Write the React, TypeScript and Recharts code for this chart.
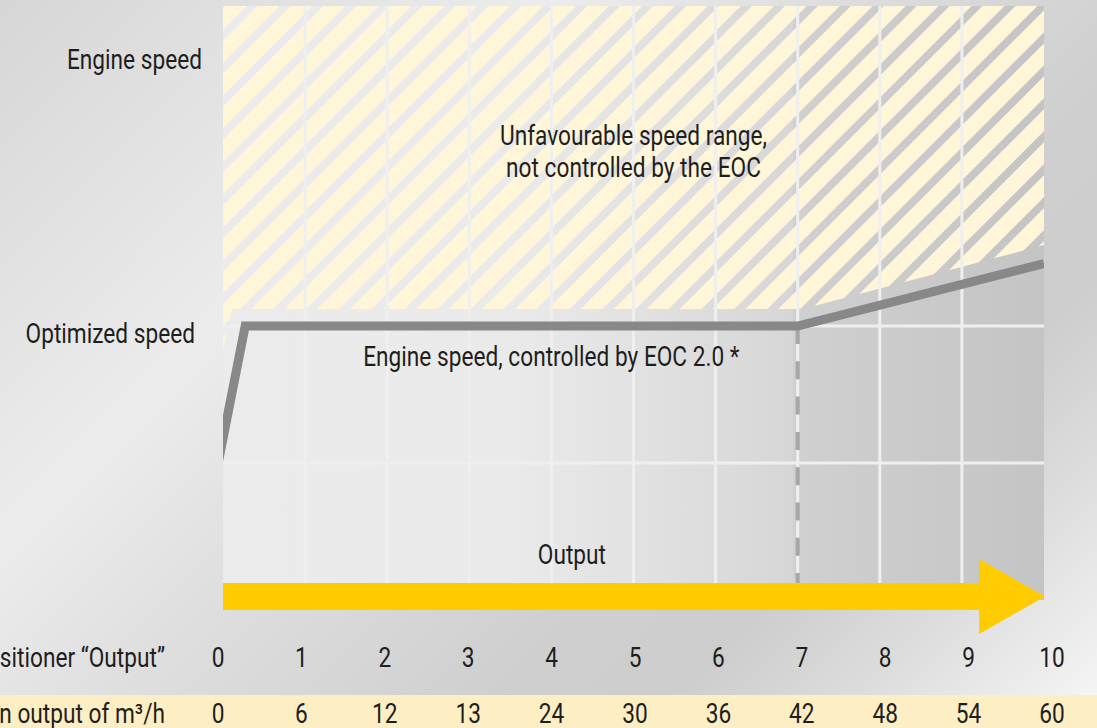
import React from 'react';
import {
  ComposedChart,
  Line,
  Area,
  XAxis,
  YAxis,
  ReferenceLine,
  ReferenceArea,
  ReferenceDot,
} from 'recharts';

// ---------- data ----------
const X_TICKS = [0, 1, 2, 3, 4, 5, 6, 7, 8, 9, 10];
const POSITIONER_LABELS = ['0', '1', '2', '3', '4', '5', '6', '7', '8', '9', '10'];
const OUTPUT_M3H_LABELS = ['0', '6', '12', '13', '24', '30', '36', '42', '48', '54', '60'];
const ROW_TITLES = ['Positioner \u201cOutput\u201d', 'Mean output of m\u00b3/h'];

const Y_TOP = 4.336;
const Y_TICKS = [2, 4];
const Y_TICK_LABELS: Record<number, string> = { 4: 'Engine speed', 2: 'Optimized speed' };

// engine speed controlled by EOC 2.0
const engineX = [-0.1, 0.27, 7, 10];
const engineY = [0.876, 2.0, 2.0, 2.456];

// lower edge of the unfavourable (hatched) speed range
const hatchX = [0, 0.11, 7.06, 10];
const hatchLow = [1.825, 2.124, 2.124, 2.591];

const GRID_X = [1, 2, 3, 4, 5, 6, 7, 8, 9];
const GRID_Y = [1, 2];
const EOC_LIMIT_X = 7;

// output arrow (lower / upper edge of the arrow head, top of the shaft)
const ARROW_Y = [-0.248, 0.299];
const ARROW_SHAFT_TOP = 0.124;

const NOTES = [
  { x: 5, y: 3.321, text: 'Unfavourable speed range,' },
  { x: 5, y: 3.088, text: 'not controlled by the EOC' },
  { x: 4, y: 1.708, text: 'Engine speed, controlled by EOC 2.0 *' },
  { x: 4.25, y: 0.263, text: 'Output' },
];

const engineData = engineX.map((x, i) => ({ x, y: engineY[i] }));
const hatchData = hatchX.map((x, i) => ({ x, range: [hatchLow[i], Y_TOP] }));

// ---------- styles ----------
const FONT = "Roboto, 'Liberation Sans', sans-serif";
const SX = 0.84;
const TEXT_COLOR = '#1e1e1e';
const Y_LABEL_DX: Record<number, number> = { 4: -21, 2: -28 };

function CText({ x, y, anchor = 'start', size = 27, children }: any) {
  return (
    <text
      transform={`translate(${x},${y}) scale(${SX},1)`}
      textAnchor={anchor}
      fontFamily={FONT}
      fontSize={size}
      fill={TEXT_COLOR}
    >
      {children}
    </text>
  );
}

const XTick = (props: any) => {
  const { x, y, payload } = props;
  const i = X_TICKS.indexOf(payload.value);
  const dx = -5 + 1.3 * i;
  return (
    <g>
      <CText x={x + dx} y={y + 67} anchor="middle">{POSITIONER_LABELS[i]}</CText>
      <CText x={x + dx} y={y + 123} anchor="middle">{OUTPUT_M3H_LABELS[i]}</CText>
      {i === 0 && (
        <g>
          <CText x={x - 58} y={y + 67} anchor="end">{ROW_TITLES[0]}</CText>
          <CText x={x - 58} y={y + 123} anchor="end">{ROW_TITLES[1]}</CText>
        </g>
      )}
    </g>
  );
};

const YTick = (props: any) => {
  const { x, y, payload } = props;
  const v = payload.value;
  return (
    <CText x={x + (Y_LABEL_DX[v] ?? -24)} y={y + 17} anchor="end">
      {Y_TICK_LABELS[v]}
    </CText>
  );
};

const BgShape = (p: any) => (
  <g>
    <defs>
      <linearGradient id="plotBg" x1="0" y1="0" x2="1" y2="0">
        <stop offset="0" stopColor="#ebebeb" />
        <stop offset="0.35" stopColor="#eaeaea" />
        <stop offset="0.55" stopColor="#dfdfdf" />
        <stop offset="0.694" stopColor="#d6d6d6" />
        <stop offset="0.694" stopColor="#d0d0d0" />
        <stop offset="1" stopColor="#c4c4c4" />
      </linearGradient>
      <pattern
        id="hatch"
        patternUnits="userSpaceOnUse"
        width="23.3"
        height="20"
        patternTransform="rotate(45)"
      >
        <rect x="0" y="0" width="15.5" height="20" fill="#fff5d8" />
      </pattern>
    </defs>
    <rect x={p.x} y={p.y} width={p.width} height={p.height} fill="url(#plotBg)" />
  </g>
);

const ArrowShape = (p: any) => {
  const { x, y, width: w, height: h } = p;
  const bt = y + h * (24 / 75);
  const bb = y + h * (51 / 75);
  const hx = x + w * 0.921;
  const pts = [
    [x, bt],
    [hx, bt],
    [hx, y],
    [x + w + 1, y + h / 2],
    [hx, y + h],
    [hx, bb],
    [x, bb],
  ]
    .map((q) => q.join(','))
    .join(' ');
  return <polygon points={pts} fill="#ffcc00" />;
};

const noteShape = (text: string) => (p: any) => (
  <CText x={p.cx} y={p.cy} anchor="middle">{text}</CText>
);

export default function App() {
  return (
    <div
      style={{
        position: 'absolute',
        left: 0,
        top: 0,
        width: 1097,
        height: 728,
        overflow: 'hidden',
        background:
          'linear-gradient(#fdeec4, #fdeec4) 0 695px / 100% 33px no-repeat, linear-gradient(135deg, #d6d6d6 0%, #ececec 30%, #dedede 45%, #cfcfcf 65%, #cdcdcd 75%, #dcdcdc 85%, #f8f8f8 100%)',
      }}
    >
      <ComposedChart width={1097} height={728} margin={{ top: 6, right: 53, bottom: 0, left: 0 }}>
        <XAxis
          type="number"
          dataKey="x"
          domain={[0, 10]}
          allowDataOverflow
          ticks={X_TICKS}
          interval={0}
          height={128}
          tickLine={false}
          axisLine={false}
          tickSize={0}
          tickMargin={0}
          tick={<XTick />}
        />
        <YAxis
          type="number"
          domain={[0, Y_TOP]}
          ticks={Y_TICKS}
          width={223}
          tickLine={false}
          axisLine={false}
          tickSize={0}
          tickMargin={0}
          tick={<YTick />}
        />
        <ReferenceArea x1={0} x2={10} y1={0} y2={Y_TOP} shape={BgShape} ifOverflow="visible" />
        <Area
          data={hatchData}
          dataKey="range"
          type="linear"
          stroke="none"
          fill="url(#hatch)"
          fillOpacity={1}
          isAnimationActive={false}
          dot={false}
          activeDot={false}
        />
        {GRID_X.map((v) => (
          <ReferenceLine
            key={'gx' + v}
            segment={[
              { x: v, y: ARROW_SHAFT_TOP },
              { x: v, y: Y_TOP },
            ]}
            stroke="#efefef"
            strokeWidth={3}
          />
        ))}
        {GRID_Y.map((v) => (
          <ReferenceLine key={'gy' + v} y={v} stroke="#efefef" strokeWidth={3} />
        ))}
        <ReferenceLine
          segment={[
            { x: EOC_LIMIT_X, y: 2 },
            { x: EOC_LIMIT_X, y: ARROW_SHAFT_TOP },
          ]}
          stroke="#a6a6a6"
          strokeWidth={4}
          strokeDasharray="18 17.3"
        />
        <Line
          data={engineData}
          dataKey="y"
          type="linear"
          stroke="#888888"
          strokeWidth={9}
          strokeLinejoin="miter"
          dot={false}
          activeDot={false}
          isAnimationActive={false}
        />
        <ReferenceArea
          x1={0}
          x2={10}
          y1={ARROW_Y[0]}
          y2={ARROW_Y[1]}
          shape={ArrowShape}
          ifOverflow="visible"
        />
        {NOTES.map((n) => (
          <ReferenceDot key={n.text} x={n.x} y={n.y} r={0} shape={noteShape(n.text)} ifOverflow="visible" />
        ))}
      </ComposedChart>
    </div>
  );
}
